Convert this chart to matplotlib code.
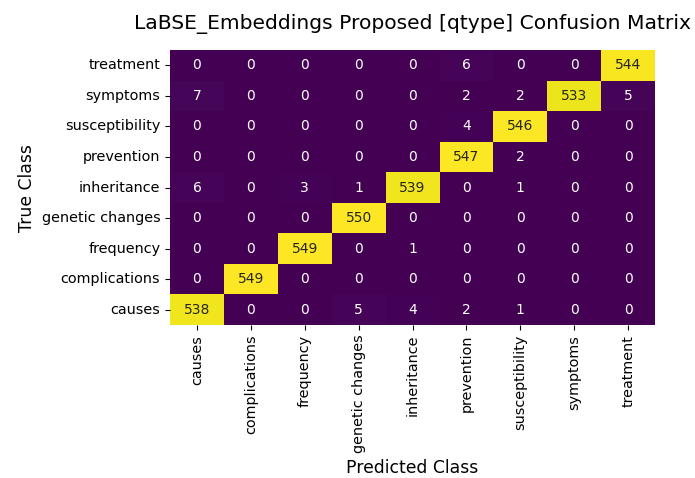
import matplotlib
matplotlib.use("Agg")
import matplotlib.pyplot as plt
import seaborn as sns
import numpy as np

classes = ["causes", "complications", "frequency", "genetic changes", "inheritance",
           "prevention", "susceptibility", "symptoms", "treatment"]

# rows = true class (causes ... treatment), cols = predicted class
row_causes = [538, 0, 0, 5, 4, 2, 1, 0, 0]
row_complications = [0, 549, 0, 0, 0, 0, 0, 0, 0]
row_frequency = [0, 0, 549, 0, 1, 0, 0, 0, 0]
row_genetic = [0, 0, 0, 550, 0, 0, 0, 0, 0]
row_inheritance = [6, 0, 3, 1, 539, 0, 1, 0, 0]
row_prevention = [0, 0, 0, 0, 0, 547, 2, 0, 0]
row_susceptibility = [0, 0, 0, 0, 0, 4, 546, 0, 0]
row_symptoms = [7, 0, 0, 0, 0, 2, 2, 533, 5]
row_treatment = [0, 0, 0, 0, 0, 6, 0, 0, 544]

cm = np.array([row_causes, row_complications, row_frequency, row_genetic,
               row_inheritance, row_prevention, row_susceptibility,
               row_symptoms, row_treatment])

fig = plt.figure(figsize=(6.95, 4.78), dpi=100)
ax = fig.add_axes([0.2446, 0.3201, 0.698, 0.575])
sns.heatmap(cm, annot=True, fmt="d", cmap="viridis", cbar=False,
            xticklabels=classes, yticklabels=classes, ax=ax,
            annot_kws={"fontsize": 10})
ax.invert_yaxis()
ax.tick_params(axis="both", labelsize=10.4)
plt.setp(ax.get_xticklabels(), rotation=90)
plt.setp(ax.get_yticklabels(), rotation=0)
ax.set_xlabel("Predicted Class", fontsize=12.4)
ax.set_ylabel("True Class", fontsize=12.4)
ax.set_title("LaBSE_Embeddings Proposed [qtype] Confusion Matrix",
             fontsize=14.6, pad=15)
fig.savefig("out.png", dpi=100)
